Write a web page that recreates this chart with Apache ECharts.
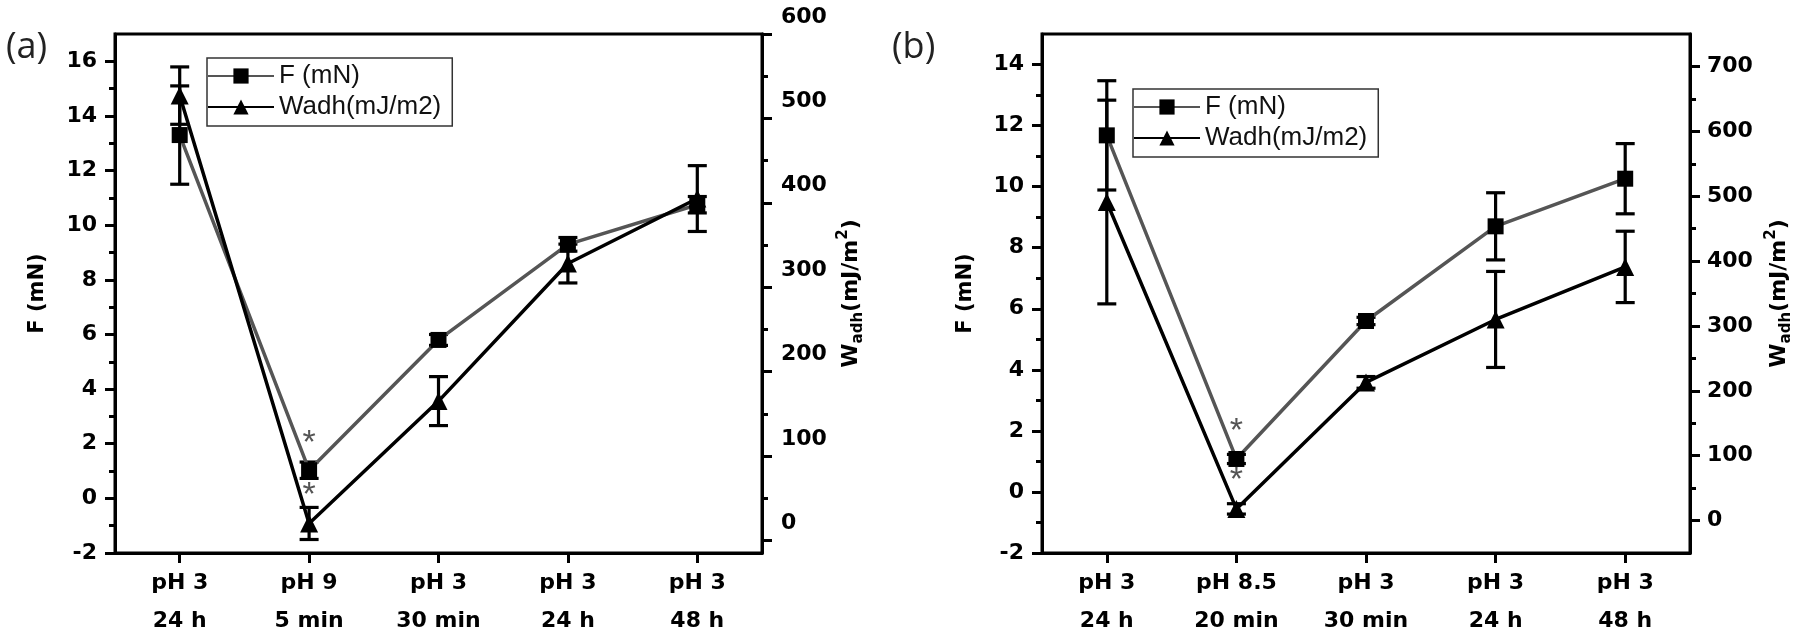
<!DOCTYPE html>
<html><head><meta charset="utf-8">
<script src="https://cdn.jsdelivr.net/npm/echarts@6/dist/echarts.min.js"></script>
<style>html,body{margin:0;padding:0;background:#fff}#c{width:1800px;height:638px}</style>
</head><body><div id="c"></div>
<script>
// ---- data ----
const catsA = ['pH 3\n24 h', 'pH 9\n5 min', 'pH 3\n30 min', 'pH 3\n24 h', 'pH 3\n48 h'];
const fA = [13.3, 1.03, 5.8, 9.3, 10.75];
const fErrA = [1.8, 0.3, 0.2, 0.25, 0.3];
const wA = [527, 20, 165, 328, 405];
const wErrA = [34, 19, 29, 23, 39];

const catsB = ['pH 3\n24 h', 'pH 8.5\n20 min', 'pH 3\n30 min', 'pH 3\n24 h', 'pH 3\n48 h'];
const fB = [11.68, 1.08, 5.6, 8.7, 10.26];
const fErrB = [1.79, 0.15, 0.12, 1.1, 1.15];
const wB = [491, 18, 213, 310, 391];
const wErrB = [157, 8, 9, 74, 55];

const fTicksA = [-2, 0, 2, 4, 6, 8, 10, 12, 14, 16];
const fMinorA = [-1, 1, 3, 5, 7, 9, 11, 13, 15];
const wTicksA = [0, 100, 200, 300, 400, 500, 600];
const wMinorA = [50, 150, 250, 350, 450, 550];
const fTicksB = [-2, 0, 2, 4, 6, 8, 10, 12, 14];
const fMinorB = [-1, 1, 3, 5, 7, 9, 11, 13];
const wTicksB = [0, 100, 200, 300, 400, 500, 600, 700];
const wMinorB = [50, 150, 250, 350, 450, 550, 650];

const seriesNames = ['F (mN)', 'Wadh(mJ/m2)'];
const starIdx = 1;

// ---- styling helpers ----
const TICKFONT = {fontFamily: 'DejaVu Sans', fontWeight: 'bold', fontSize: 22, color: '#000'};
const AXLINE = {show: true, onZero: false, lineStyle: {color: '#000', width: 3}};

function xAx(grid, cats) {
  return {
    type: 'category', gridIndex: grid, data: cats, boundaryGap: true,
    axisLine: AXLINE,
    axisTick: {show: true, alignWithLabel: true, length: 10, lineStyle: {color: '#000', width: 3}},
    axisLabel: Object.assign({margin: 11, lineHeight: 38, interval: 0}, TICKFONT),
    splitLine: {show: false}
  };
}
function yMain(grid, pos, min, max, ticks, extra) {
  return Object.assign({
    type: 'value', gridIndex: grid, position: pos, min, max,
    axisLine: AXLINE,
    axisTick: {show: true, customValues: ticks, length: 10, lineStyle: {color: '#000', width: 3}},
    axisLabel: Object.assign({customValues: ticks, margin: 18}, TICKFONT),
    splitLine: {show: false}
  }, extra || {});
}
function yMinor(grid, pos, min, max, ticks) {
  return {
    type: 'value', gridIndex: grid, position: pos, min, max,
    axisLine: {show: false},
    axisTick: {show: true, customValues: ticks, length: 6, lineStyle: {color: '#000', width: 3}},
    axisLabel: {show: false},
    splitLine: {show: false}
  };
}
function nameStyleF() {
  return {
    fontFamily: 'DejaVu Sans', fontWeight: 'bold', fontSize: 21, color: '#000', lineHeight: 26,
    rich: {n: {fontFamily: 'DejaVu Sans', fontWeight: 'bold', fontSize: 21, lineHeight: 26, color: '#000'}}
  };
}
function nameStyleW() {
  return {
    fontFamily: 'DejaVu Sans', fontWeight: 'bold', fontSize: 22, color: '#000', lineHeight: 30,
    rich: {
      m: {fontFamily: 'DejaVu Sans', fontWeight: 'bold', fontSize: 22, lineHeight: 30, color: '#000'},
      sub: {fontFamily: 'DejaVu Sans', fontWeight: 'bold', fontSize: 15, lineHeight: 15, verticalAlign: 'bottom', color: '#000'},
      sup: {fontFamily: 'DejaVu Sans', fontWeight: 'bold', fontSize: 15, lineHeight: 15, verticalAlign: 'top', color: '#000'}
    }
  };
}
const F_NAME = '{n|F (mN)}';
const W_NAME = '{m|W}{sub|adh}{m|(mJ/m}{sup|2}{m|)}';

function lineSeries(name, xi, yi, vals, color, symbol, size) {
  return {
    type: 'line', name, xAxisIndex: xi, yAxisIndex: yi,
    data: vals.map((v, i) => i === starIdx ? {
      value: v,
      label: {show: true, formatter: '*', position: 'top', distance: 2, color: '#555', fontSize: 34, fontFamily: 'Liberation Sans'}
    } : v),
    symbol, symbolSize: size,
    lineStyle: {color, width: 3.5},
    itemStyle: {color: '#000'},
    emphasis: {disabled: true},
    z: 4, animation: false
  };
}
function errSeries(xi, yi, vals, errs) {
  return {
    type: 'custom', xAxisIndex: xi, yAxisIndex: yi, z: 3, silent: true, animation: false,
    data: vals.map((v, i) => [i, v - errs[i], v + errs[i]]),
    renderItem(params, api) {
      const lo = api.coord([api.value(0), api.value(1)]);
      const hi = api.coord([api.value(0), api.value(2)]);
      const hw = 9.5;
      const st = {stroke: '#000', lineWidth: 3.2, fill: null};
      return {type: 'group', children: [
        {type: 'line', shape: {x1: lo[0], y1: lo[1], x2: hi[0], y2: hi[1]}, style: st},
        {type: 'line', shape: {x1: lo[0] - hw, y1: lo[1], x2: lo[0] + hw, y2: lo[1]}, style: st},
        {type: 'line', shape: {x1: hi[0] - hw, y1: hi[1], x2: hi[0] + hw, y2: hi[1]}, style: st}
      ]};
    }
  };
}
function legendAt(left, top) {
  return {
    left, top, orient: 'vertical', data: seriesNames, selectedMode: false,
    itemWidth: 66, itemHeight: 19, itemGap: 5, padding: [5, 11, 6, 0],
    borderColor: '#333', borderWidth: 1.5, backgroundColor: '#fff',
    textStyle: {fontFamily: 'Liberation Sans', fontSize: 26, color: '#111'}
  };
}

const GRAY = '#555';
const GRIDBASE = {show: true, borderColor: '#000', borderWidth: 3, backgroundColor: 'transparent', containLabel: false, outerBoundsMode: 'none'};
const option = {
  backgroundColor: '#fff',
  animation: false,
  grid: [
    Object.assign({left: 115, top: 34, width: 647, height: 519}, GRIDBASE),
    Object.assign({left: 1042, top: 34, width: 648, height: 519}, GRIDBASE)
  ],
  xAxis: [xAx(0, catsA), xAx(1, catsB)],
  yAxis: [
    yMain(0, 'left', -2, 17, fTicksA, {name: F_NAME, nameLocation: 'middle', nameGap: 64, nameRotate: 90, nameMoveOverlap: false, nameTextStyle: nameStyleF()}),
    yMinor(0, 'left', -2, 17, fMinorA),
    yMain(0, 'right', -15, 600, wTicksA, {name: W_NAME, nameLocation: 'middle', nameGap: 74, nameRotate: 90, nameMoveOverlap: false, nameTextStyle: nameStyleW(),
      axisLabel: Object.assign({customValues: wTicksA, margin: 19, verticalAlign: 'bottom', lineHeight: 34}, TICKFONT)}),
    yMinor(0, 'right', -15, 600, wMinorA),
    yMain(1, 'left', -2, 15, fTicksB, {name: F_NAME, nameLocation: 'middle', nameGap: 63, nameRotate: 90, nameMoveOverlap: false, nameTextStyle: nameStyleF()}),
    yMinor(1, 'left', -2, 15, fMinorB),
    yMain(1, 'right', -50, 750, wTicksB, {name: W_NAME, nameLocation: 'middle', nameGap: 74, nameRotate: 90, nameMoveOverlap: false, nameTextStyle: nameStyleW(),
      axisLabel: Object.assign({customValues: wTicksB, margin: 17}, TICKFONT)}),
    yMinor(1, 'right', -50, 750, wMinorB)
  ],
  legend: [legendAt(207, 58), legendAt(1133, 89)],
  graphic: [
    {type: 'text', left: 6, top: 30, style: {text: '(a)', fontFamily: 'Open Sans', fontSize: 36, fill: '#222'}},
    {type: 'text', left: 892, top: 30, style: {text: '(b)', fontFamily: 'Open Sans', fontSize: 36, fill: '#222'}}
  ],
  series: [
    errSeries(0, 0, fA, fErrA),
    errSeries(0, 2, wA, wErrA),
    lineSeries(seriesNames[0], 0, 0, fA, GRAY, 'rect', 16),
    lineSeries(seriesNames[1], 0, 2, wA, '#000', 'triangle', 18),
    errSeries(1, 4, fB, fErrB),
    errSeries(1, 6, wB, wErrB),
    lineSeries(seriesNames[0], 1, 4, fB, GRAY, 'rect', 16),
    lineSeries(seriesNames[1], 1, 6, wB, '#000', 'triangle', 18)
  ]
};
const chart = echarts.init(document.getElementById('c'), null, {renderer: 'canvas'});
chart.setOption(option);
</script>
</body></html>
